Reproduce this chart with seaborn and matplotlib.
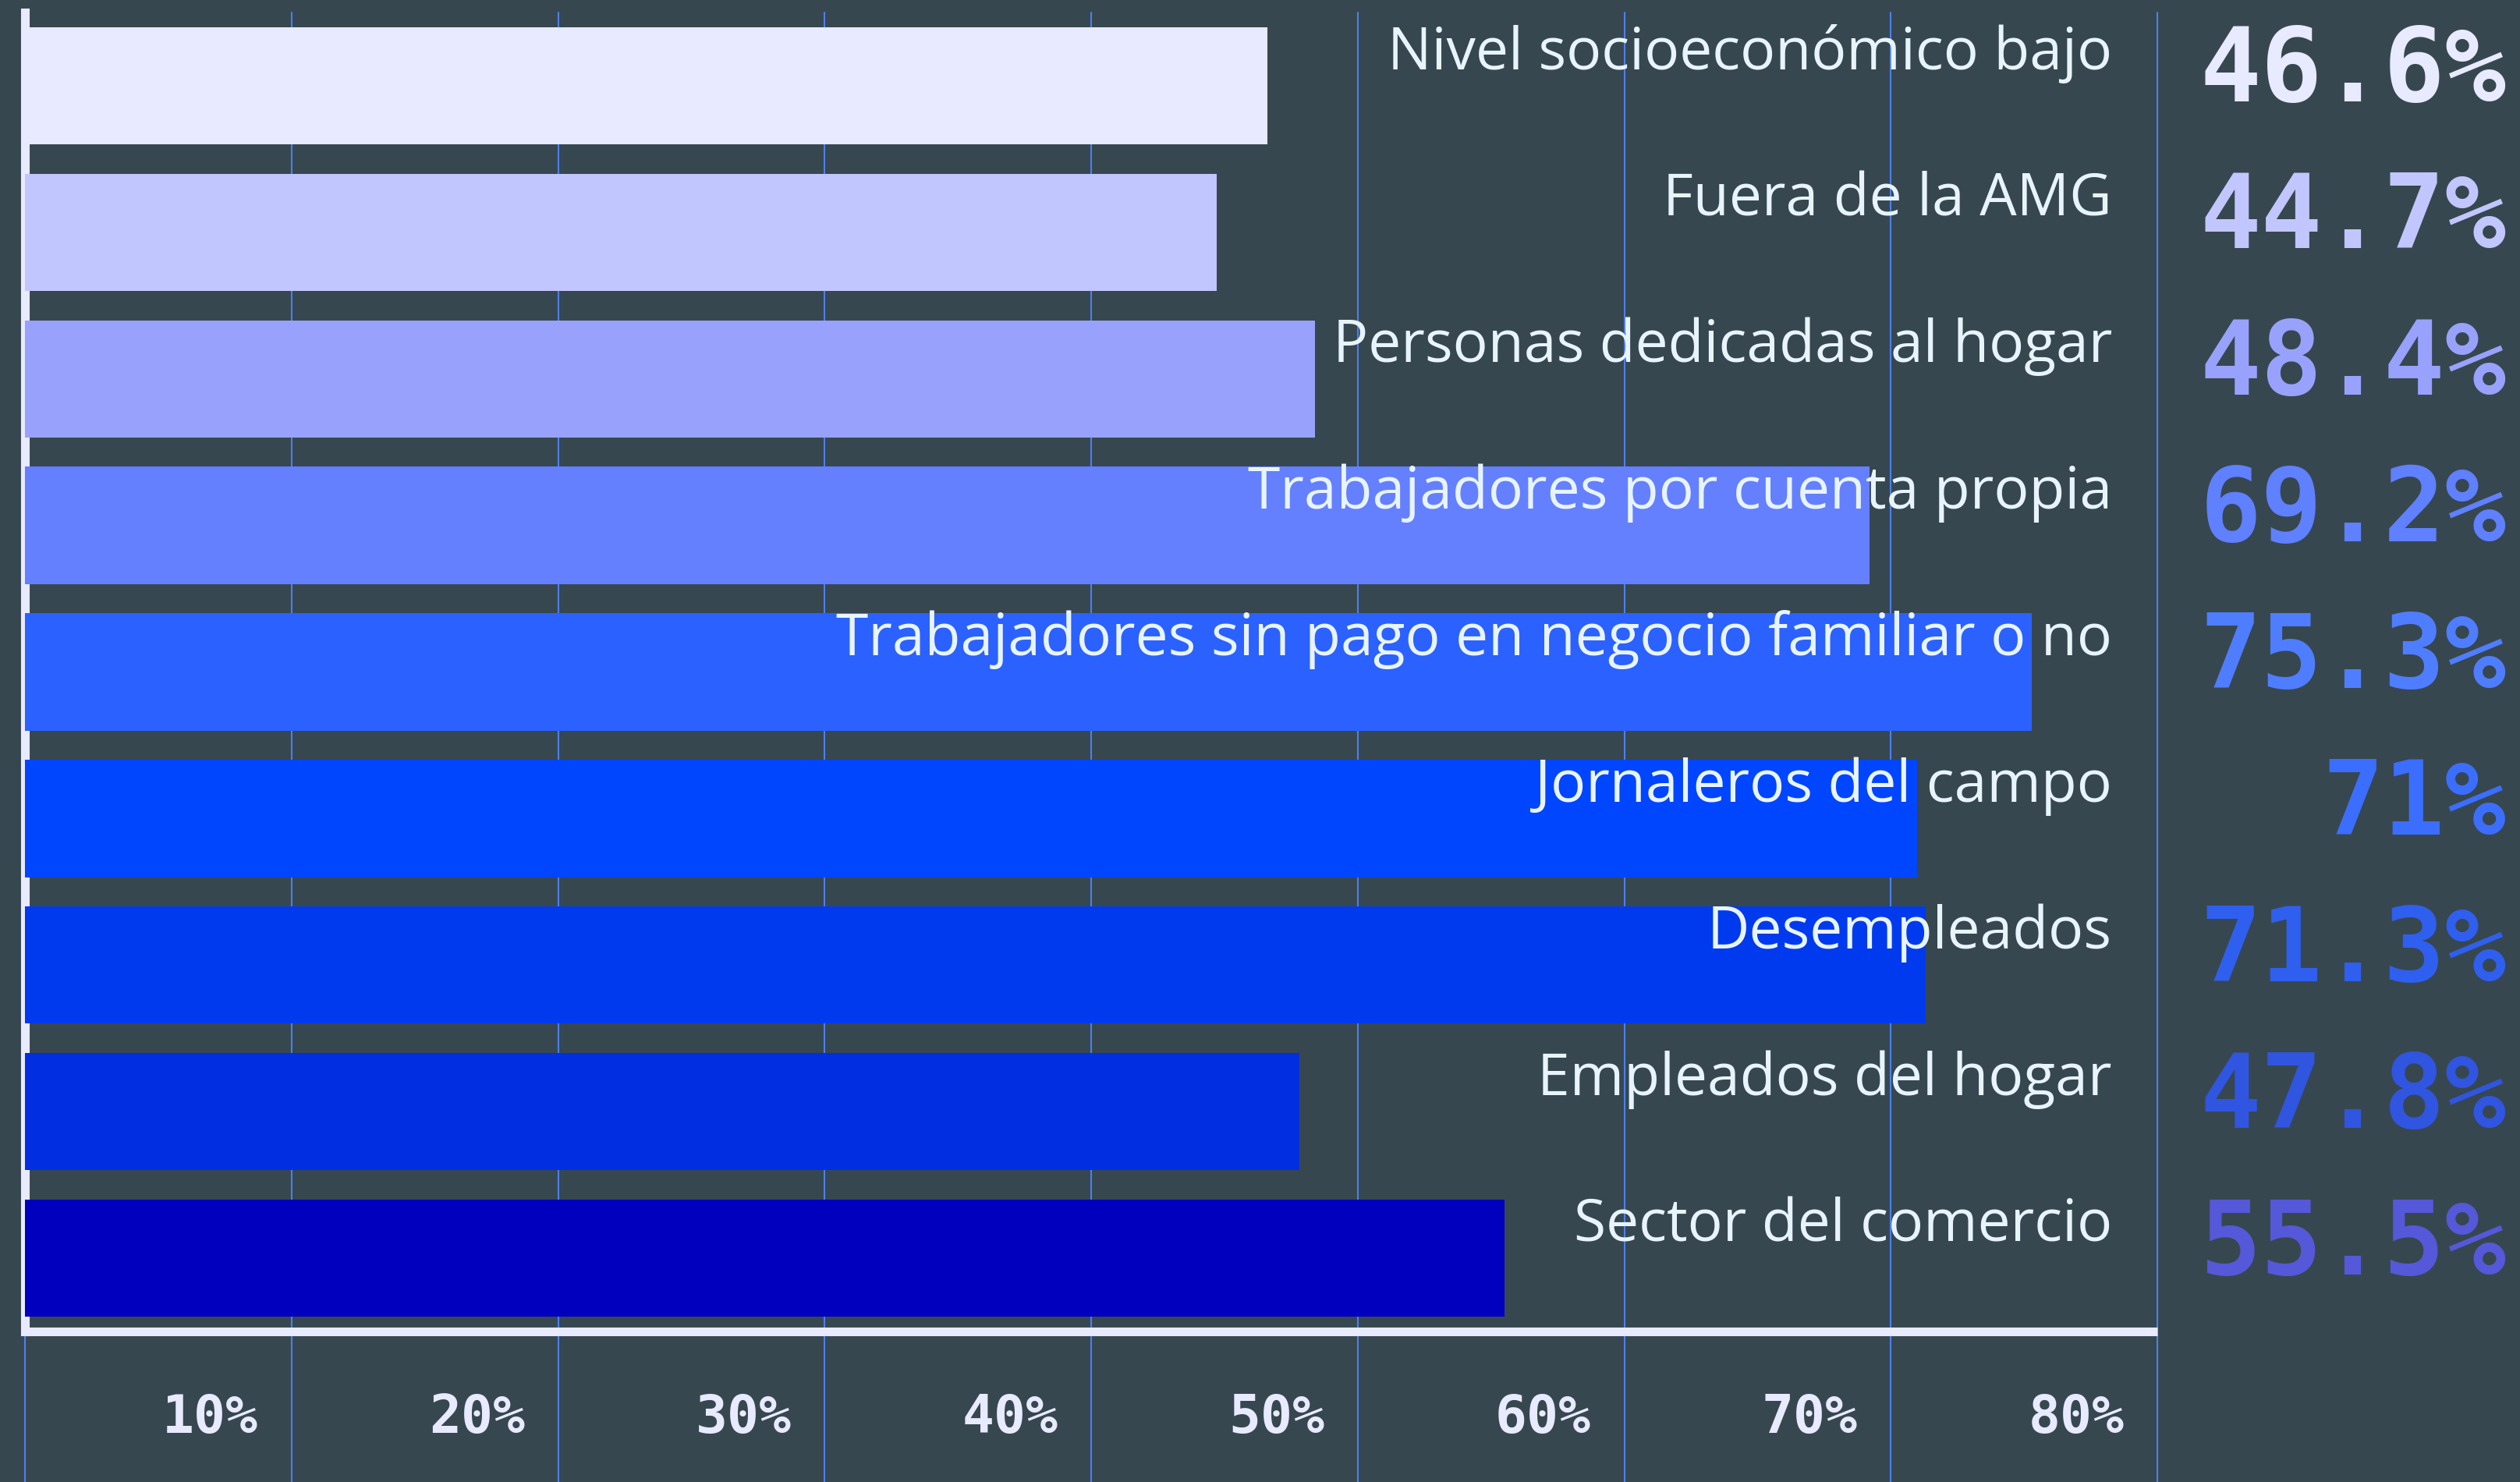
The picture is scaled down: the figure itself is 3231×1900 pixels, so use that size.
import matplotlib
matplotlib.use("Agg")
import matplotlib.pyplot as plt
import seaborn as sns
import pandas as pd

categories = [
    "Nivel socioeconómico bajo",
    "Fuera de la AMG",
    "Personas dedicadas al hogar",
    "Trabajadores por cuenta propia",
    "Trabajadores sin pago en negocio familiar o no",
    "Jornaleros del campo",
    "Desempleados",
    "Empleados del hogar",
    "Sector del comercio",
]
values = [46.6, 44.7, 48.4, 69.2, 75.3, 71.0, 71.3, 47.8, 55.5]
value_labels = ["46.6%", "44.7%", "48.4%", "69.2%", "75.3%", "71%", "71.3%", "47.8%", "55.5%"]
bar_colors = ["#E8EAFF", "#C2C6FF", "#98A2FC", "#6480FF", "#2B61FF",
              "#0045FF", "#003AEE", "#002EE0", "#0000BE"]
value_colors = ["#E8EAFF", "#C2C6FF", "#98A2FC", "#5F80FF", "#4F7DFF",
                "#3B6EFF", "#2F5FEE", "#3055E0", "#5558D8"]
x_ticks = [0, 10, 20, 30, 40, 50, 60, 70, 80]
x_tick_labels = ["", "10%", "20%", "30%", "40%", "50%", "60%", "70%", "80%"]

BG = "#37474F"
GRID = "#4A80F0"
LIGHT = "#E8EAFF"
LABEL = "#E8F4FD"

sns.set_style("white")
plt.rcParams["font.family"] = ["DejaVu Sans"]

W, H = 3231, 1900
fig = plt.figure(figsize=(W / 100, H / 100), dpi=100, facecolor=BG)
ax_left, ax_right, ax_top, ax_bottom = 32, 2766, 16, 1707
ax = fig.add_axes([ax_left / W, (H - ax_bottom) / H,
                   (ax_right - ax_left) / W, (ax_bottom - ax_top) / H])
ax.set_facecolor(BG)

df = pd.DataFrame({"cat": categories, "val": values})
sns.barplot(data=df, x="val", y="cat", hue="cat", palette=bar_colors,
            orient="h", width=0.8, saturation=1, legend=False, ax=ax,
            zorder=2, linewidth=0, edgecolor="none")

ax.set_xlim(0, 80)
ax.set_ylim(len(categories) - 0.5, -0.5)

# gridlines extending below the axis down to the figure bottom
ymin_ext = -(H - ax_bottom) / (ax_bottom - ax_top)
for t in x_ticks:
    ax.axvline(t, ymin=ymin_ext, ymax=1, color=GRID, lw=1.5, zorder=1, clip_on=False)

for s in ["top", "right"]:
    ax.spines[s].set_visible(False)
for s in ["left", "bottom"]:
    ax.spines[s].set_color(LIGHT)
    ax.spines[s].set_linewidth(8)
    ax.spines[s].set_zorder(1.5)
ax.spines["bottom"].set_capstyle("butt")

ax.set_xticks([])
ax.set_yticks([])
ax.set_xlabel("")
ax.set_ylabel("")

# x tick labels (right-aligned just left of each gridline)
for t, lab in zip(x_ticks, x_tick_labels):
    if lab:
        ax.text(t - 1.25, 9.19, lab, ha="right", va="baseline",
                fontsize=49, fontweight="bold", family="DejaVu Sans Mono",
                color=LIGHT, clip_on=False)

# category labels
for i, c in enumerate(categories):
    ax.text(78.3, i - 0.114, c, ha="right", va="baseline", fontsize=54,
            family=["Open Sans", "DejaVu Sans"], color=LABEL, zorder=5)

# value labels
for i, (lab, col) in enumerate(zip(value_labels, value_colors)):
    ax.text(93.1, i + 0.109, lab, ha="right", va="baseline", fontsize=94,
            fontweight="bold", family="DejaVu Sans Mono", color=col,
            clip_on=False, zorder=5)

fig.savefig("out.png", dpi=100, facecolor=BG)
